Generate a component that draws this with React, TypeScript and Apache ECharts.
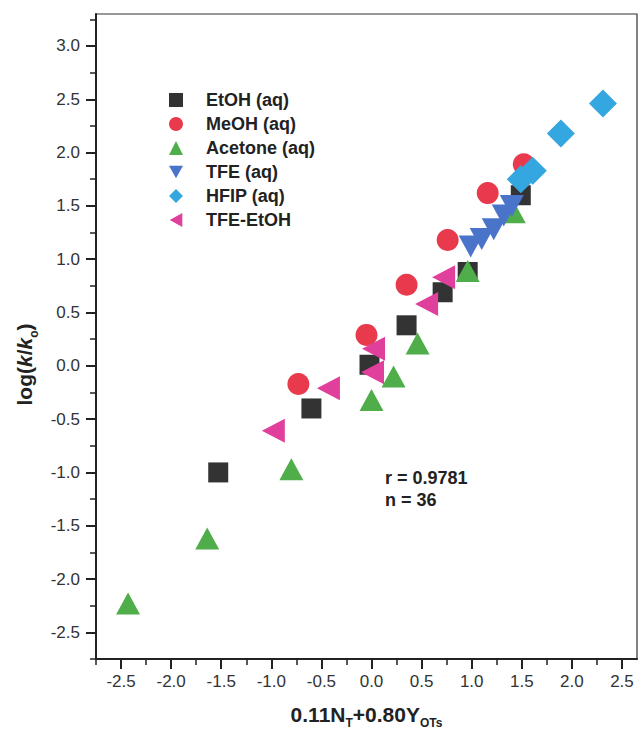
import React, { useEffect, useRef } from "react";
import * as echarts from "echarts";

const FONT = "'Liberation Sans', Arial, Helvetica, sans-serif";

const seriesNames = ["EtOH (aq)", "MeOH (aq)", "Acetone (aq)", "TFE (aq)", "HFIP (aq)", "TFE-EtOH"];

const etohX = [-1.53, -0.6, -0.02, 0.35, 0.71, 0.96, 1.49];
const etohY = [-1.0, -0.4, 0.01, 0.38, 0.69, 0.88, 1.6];
const meohX = [-0.73, -0.05, 0.35, 0.76, 1.16, 1.52];
const meohY = [-0.17, 0.29, 0.76, 1.18, 1.62, 1.89];
const acetoneX = [-2.43, -1.64, -0.8, 0.0, 0.22, 0.46, 0.96, 1.42];
const acetoneY = [-2.23, -1.62, -0.97, -0.32, -0.1, 0.21, 0.89, 1.44];
const tfeX = [0.99, 1.1, 1.22, 1.32, 1.4];
const tfeY = [1.12, 1.19, 1.28, 1.41, 1.5];
const hfipX = [1.49, 1.61, 1.89, 2.31];
const hfipY = [1.75, 1.83, 2.18, 2.46];
const tfeEtohX = [-0.98, -0.43, 0.01, 0.02, 0.55, 0.72];
const tfeEtohY = [-0.61, -0.21, -0.06, 0.16, 0.58, 0.83];

const xMajorTicks = [-2.5, -2.0, -1.5, -1.0, -0.5, 0.0, 0.5, 1.0, 1.5, 2.0, 2.5];
const xMinorTicks = [-2.75, -2.25, -1.75, -1.25, -0.75, -0.25, 0.25, 0.75, 1.25, 1.75, 2.25];
const yMajorTicks = [-2.5, -2.0, -1.5, -1.0, -0.5, 0.0, 0.5, 1.0, 1.5, 2.0, 2.5, 3.0];
const yMinorTicks = [-2.75, -2.25, -1.75, -1.25, -0.75, -0.25, 0.25, 0.75, 1.25, 1.75, 2.25, 2.75, 3.25];

const annotations = ["r = 0.9781", "n = 36"];

const zip = (xs: number[], ys: number[]) => xs.map((x, i) => [x, ys[i]]);

const DOWN_TRI = "path://M0,0L20,0L10,18Z";
const LEFT_TRI = "path://M18,0L18,20L0,10Z";

export default function App() {
  const ref = useRef<HTMLDivElement>(null);
  useEffect(() => {
    if (!ref.current) return;
    const chart = echarts.init(ref.current, null, { renderer: "svg" });
    const X_MIN = -2.75, X_MAX = 2.65, Y_MIN = -2.75, Y_MAX = 3.3;
    const axisColor = "#222";
    const labelStyle = { fontSize: 17, color: "#333", fontFamily: FONT };
    const nameRich = {
      b: { fontSize: 21, fontWeight: "bold", color: "#222", fontFamily: FONT, lineHeight: 30 },
      i: { fontSize: 21, fontWeight: "bold", fontStyle: "italic", color: "#222", fontFamily: FONT, lineHeight: 30 },
      s: { fontSize: 12, fontWeight: "bold", color: "#222", fontFamily: FONT, lineHeight: 12, verticalAlign: "bottom" },
    };
    const legendIcons: Record<string, string> = {
      [seriesNames[3]]: DOWN_TRI,
      [seriesNames[5]]: LEFT_TRI,
    };
    const option: any = {
      animation: false,
      backgroundColor: "#fff",
      textStyle: { fontFamily: FONT },
      grid: { left: 96, right: 3, top: 14, bottom: 73, show: true, borderColor: "#333", borderWidth: 1.2 },
      legend: {
        orient: "vertical",
        left: 169,
        top: 91,
        padding: 0,
        itemWidth: 14,
        itemHeight: 14,
        itemGap: 6,
        textStyle: { fontSize: 18, fontWeight: "bold", color: "#222", lineHeight: 18, fontFamily: FONT, padding: [0, 0, 0, 18] },
        data: seriesNames.map((n) => (legendIcons[n] ? { name: n, icon: legendIcons[n] } : { name: n })),
      },
      xAxis: [
        {
          type: "value", min: X_MIN, max: X_MAX, position: "bottom",
          axisLine: { show: true, onZero: false, lineStyle: { color: axisColor, width: 2 } },
          axisTick: { show: true, inside: false, length: 10, customValues: xMajorTicks, lineStyle: { color: axisColor, width: 2 } },
          axisLabel: { customValues: xMajorTicks, formatter: (v: number) => v.toFixed(1), margin: 14, ...labelStyle },
          splitLine: { show: false },
          name: "{b|0.11N}{s|T}{b|+0.80Y}{s|OTs}",
          nameLocation: "middle",
          nameGap: 40,
          nameTextStyle: { rich: nameRich },
        },
        {
          type: "value", min: X_MIN, max: X_MAX, position: "bottom",
          axisLine: { show: false, onZero: false },
          axisTick: { show: true, inside: false, length: 6, customValues: xMinorTicks, lineStyle: { color: axisColor, width: 1.5 } },
          axisLabel: { show: false },
          splitLine: { show: false },
        },
      ],
      yAxis: [
        {
          type: "value", min: Y_MIN, max: Y_MAX, position: "left",
          axisLine: { show: true, onZero: false, lineStyle: { color: axisColor, width: 2 } },
          axisTick: { show: true, inside: false, length: 10, customValues: yMajorTicks, lineStyle: { color: axisColor, width: 2 } },
          axisLabel: { customValues: yMajorTicks, formatter: (v: number) => v.toFixed(1), margin: 16, ...labelStyle },
          splitLine: { show: false },
          name: "{b|log(}{i|k}{b|/}{i|k}{s|o}{b|)}",
          nameLocation: "middle",
          nameGap: 56,
          nameTextStyle: { rich: nameRich, padding: [0, 56, 0, 0] },
        },
        {
          type: "value", min: Y_MIN, max: Y_MAX, position: "left",
          axisLine: { show: false, onZero: false },
          axisTick: { show: true, inside: false, length: 6, customValues: yMinorTicks, lineStyle: { color: axisColor, width: 1.5 } },
          axisLabel: { show: false },
          splitLine: { show: false },
        },
      ],
      graphic: [
        { type: "text", left: 385, top: 469, style: { text: annotations[0], font: `bold 18px ${FONT}`, fill: "#222" } },
        { type: "text", left: 385, top: 491, style: { text: annotations[1], font: `bold 18px ${FONT}`, fill: "#222" } },
      ],
      series: [
        { name: seriesNames[0], type: "scatter", symbol: "rect", symbolSize: 20, itemStyle: { color: "#333333", opacity: 1 }, data: zip(etohX, etohY) },
        { name: seriesNames[1], type: "scatter", symbol: "circle", symbolSize: 22, itemStyle: { color: "#e83a4c", opacity: 1 }, data: zip(meohX, meohY) },
        { name: seriesNames[2], type: "scatter", symbol: "triangle", symbolSize: [24, 22], itemStyle: { color: "#4fae4a", opacity: 1 }, data: zip(acetoneX, acetoneY) },
        { name: seriesNames[3], type: "scatter", symbol: "triangle", symbolRotate: 180, symbolSize: [24, 22], itemStyle: { color: "#4a74c9", opacity: 1 }, data: zip(tfeX, tfeY) },
        { name: seriesNames[4], type: "scatter", symbol: "diamond", symbolSize: [28, 28], itemStyle: { color: "#35a7e0", opacity: 1 }, data: zip(hfipX, hfipY) },
        { name: seriesNames[5], type: "scatter", symbol: "triangle", symbolRotate: 90, symbolSize: [24, 23], itemStyle: { color: "#e0409b", opacity: 1 }, data: zip(tfeEtohX, tfeEtohY) },
      ],
    };
    chart.setOption(option);
    return () => chart.dispose();
  }, []);
  return <div ref={ref} style={{ position: "fixed", left: 0, top: 0, width: 640, height: 734, background: "#fff" }} />;
}
